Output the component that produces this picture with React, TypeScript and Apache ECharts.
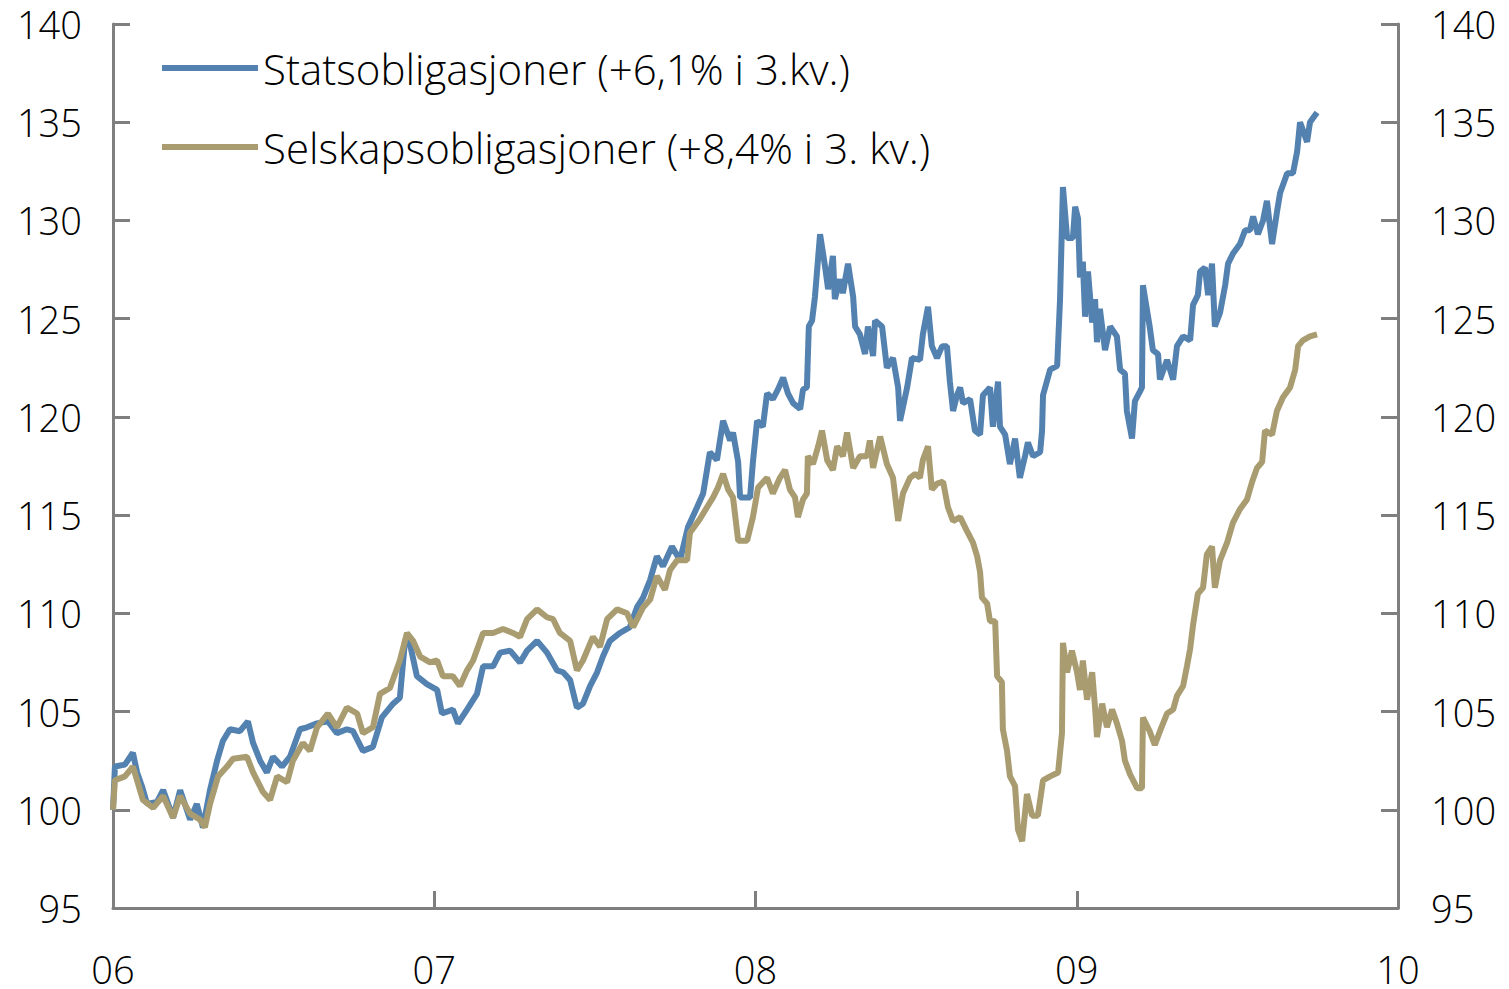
import React, { useEffect, useRef } from "react";
import * as echarts from "echarts";

const xTickLabels = ["06", "07", "08", "09", "10"];
const seriesNames = [
  "Statsobligasjoner (+6,1% i 3.kv.)",
  "Selskapsobligasjoner (+8,4% i 3. kv.)",
];

// Statsobligasjoner (index, 2006 = 100)
const statsT = [
  2006.000, 2006.006, 2006.037, 2006.062, 2006.075, 2006.090, 2006.106, 2006.137, 2006.156, 2006.187,
  2006.209, 2006.240, 2006.261, 2006.280, 2006.302, 2006.324, 2006.342, 2006.364, 2006.395, 2006.420,
  2006.436, 2006.458, 2006.479, 2006.498, 2006.526, 2006.551, 2006.582, 2006.604, 2006.635, 2006.669,
  2006.697, 2006.728, 2006.747, 2006.778, 2006.809, 2006.837, 2006.872, 2006.893, 2006.909, 2006.925,
  2006.946, 2006.977, 2007.009, 2007.024, 2007.058, 2007.074, 2007.102, 2007.133, 2007.152, 2007.183,
  2007.205, 2007.236, 2007.267, 2007.289, 2007.320, 2007.351, 2007.382, 2007.401, 2007.423, 2007.444,
  2007.463, 2007.485, 2007.507, 2007.525, 2007.547, 2007.578, 2007.609, 2007.631, 2007.650, 2007.672,
  2007.693, 2007.712, 2007.740, 2007.765, 2007.790, 2007.818, 2007.837, 2007.849, 2007.858, 2007.880,
  2007.899, 2007.921, 2007.930, 2007.946, 2007.952, 2007.983, 2007.992, 2008.005, 2008.023, 2008.036,
  2008.054, 2008.070, 2008.086, 2008.101, 2008.117, 2008.139, 2008.148, 2008.160, 2008.166, 2008.176,
  2008.185, 2008.201, 2008.217, 2008.226, 2008.241, 2008.247, 2008.263, 2008.272, 2008.288, 2008.304,
  2008.310, 2008.325, 2008.341, 2008.350, 2008.366, 2008.372, 2008.394, 2008.409, 2008.428, 2008.444,
  2008.450, 2008.472, 2008.487, 2008.512, 2008.521, 2008.537, 2008.549, 2008.565, 2008.581, 2008.596,
  2008.605, 2008.615, 2008.627, 2008.637, 2008.646, 2008.668, 2008.683, 2008.699, 2008.708, 2008.730,
  2008.739, 2008.755, 2008.761, 2008.777, 2008.792, 2008.808, 2008.823, 2008.839, 2008.848, 2008.864,
  2008.886, 2008.892, 2008.895, 2008.917, 2008.939, 2008.948, 2008.957, 2008.970, 2008.988, 2008.995,
  2009.004, 2009.010, 2009.019, 2009.026, 2009.035, 2009.048, 2009.057, 2009.063, 2009.072, 2009.088,
  2009.104, 2009.125, 2009.135, 2009.150, 2009.156, 2009.172, 2009.181, 2009.197, 2009.203, 2009.206,
  2009.227, 2009.237, 2009.253, 2009.259, 2009.281, 2009.300, 2009.312, 2009.331, 2009.353, 2009.362,
  2009.377, 2009.384, 2009.399, 2009.409, 2009.421, 2009.430, 2009.446, 2009.462, 2009.471, 2009.486,
  2009.508, 2009.524, 2009.539, 2009.549, 2009.564, 2009.580, 2009.592, 2009.608, 2009.623, 2009.633,
  2009.655, 2009.673, 2009.686, 2009.695, 2009.717, 2009.726, 2009.748,
];
const statsV = [
  100.0, 102.2, 102.3, 102.9, 101.9, 101.2, 100.3, 100.4, 101.0, 99.6,
  101.0, 99.5, 100.3, 99.1, 101.0, 102.5, 103.5, 104.1, 104.0, 104.5,
  103.4, 102.5, 101.9, 102.7, 102.2, 102.7, 104.1, 104.2, 104.4, 104.5,
  103.9, 104.1, 104.0, 103.0, 103.2, 104.7, 105.4, 105.7, 108.6, 108.4,
  106.8, 106.4, 106.1, 104.9, 105.1, 104.4, 105.1, 105.9, 107.3, 107.3,
  108.0, 108.1, 107.5, 108.1, 108.6, 108.0, 107.1, 107.0, 106.6, 105.2,
  105.4, 106.3, 107.0, 107.8, 108.6, 109.0, 109.3, 110.3, 110.8, 111.7,
  112.9, 112.4, 113.4, 112.7, 114.4, 115.4, 116.1, 117.3, 118.2, 117.8,
  119.8, 118.8, 119.2, 117.7, 115.9, 115.9, 117.7, 119.8, 119.5, 121.2,
  120.9, 121.4, 122.0, 121.2, 120.7, 120.4, 121.4, 121.5, 124.6, 124.9,
  126.1, 129.3, 127.6, 126.5, 128.2, 126.0, 127.0, 126.3, 127.8, 126.1,
  124.6, 124.2, 123.2, 124.6, 123.1, 124.9, 124.6, 122.5, 123.0, 121.5,
  119.8, 121.5, 123.0, 122.9, 124.2, 125.6, 123.6, 123.0, 123.6, 123.6,
  121.8, 120.3, 121.1, 121.5, 120.7, 120.9, 119.3, 119.1, 121.1, 121.5,
  119.5, 121.8, 119.5, 119.1, 117.6, 118.9, 116.9, 118.0, 118.7, 118.0,
  118.2, 119.3, 121.1, 122.4, 122.6, 126.0, 131.7, 129.1, 129.1, 130.7,
  130.1, 127.1, 127.9, 125.1, 127.4, 124.8, 126.0, 123.8, 125.5, 123.4,
  124.6, 124.1, 122.4, 122.2, 120.3, 118.9, 120.8, 121.3, 121.5, 126.7,
  124.6, 123.4, 123.2, 121.9, 122.9, 121.9, 123.6, 124.1, 123.9, 125.7,
  126.2, 127.4, 127.6, 126.2, 127.8, 124.6, 125.3, 126.7, 127.8, 128.3,
  128.8, 129.5, 129.5, 130.2, 129.3, 130.0, 131.0, 128.8, 130.4, 131.4,
  132.4, 132.4, 133.5, 135.0, 134.0, 135.0, 135.5,
];

// Selskapsobligasjoner (index, 2006 = 100)
const selskT = [
  2006.000, 2006.006, 2006.037, 2006.062, 2006.075, 2006.093, 2006.125, 2006.156, 2006.187, 2006.209,
  2006.240, 2006.271, 2006.286, 2006.302, 2006.327, 2006.355, 2006.374, 2006.417, 2006.436, 2006.467,
  2006.489, 2006.511, 2006.542, 2006.560, 2006.591, 2006.613, 2006.635, 2006.669, 2006.697, 2006.728,
  2006.760, 2006.778, 2006.809, 2006.831, 2006.862, 2006.893, 2006.915, 2006.934, 2006.956, 2006.987,
  2007.009, 2007.027, 2007.058, 2007.080, 2007.102, 2007.121, 2007.152, 2007.183, 2007.214, 2007.245,
  2007.267, 2007.289, 2007.320, 2007.351, 2007.370, 2007.391, 2007.423, 2007.444, 2007.463, 2007.494,
  2007.516, 2007.538, 2007.569, 2007.600, 2007.619, 2007.650, 2007.672, 2007.693, 2007.718, 2007.734,
  2007.756, 2007.787, 2007.796, 2007.827, 2007.849, 2007.868, 2007.883, 2007.899, 2007.915, 2007.930,
  2007.946, 2007.974, 2007.992, 2008.008, 2008.036, 2008.054, 2008.076, 2008.092, 2008.107, 2008.123,
  2008.132, 2008.148, 2008.160, 2008.163, 2008.179, 2008.195, 2008.207, 2008.223, 2008.241, 2008.254,
  2008.272, 2008.285, 2008.304, 2008.325, 2008.347, 2008.356, 2008.366, 2008.388, 2008.409, 2008.428,
  2008.444, 2008.459, 2008.481, 2008.497, 2008.512, 2008.521, 2008.537, 2008.549, 2008.565, 2008.584,
  2008.599, 2008.615, 2008.637, 2008.658, 2008.677, 2008.690, 2008.699, 2008.705, 2008.721, 2008.730,
  2008.746, 2008.752, 2008.767, 2008.770, 2008.783, 2008.792, 2008.808, 2008.817, 2008.830, 2008.845,
  2008.861, 2008.879, 2008.895, 2008.917, 2008.942, 2008.954, 2008.957, 2008.970, 2008.985, 2009.001,
  2009.010, 2009.019, 2009.032, 2009.048, 2009.057, 2009.063, 2009.079, 2009.094, 2009.110, 2009.125,
  2009.141, 2009.150, 2009.166, 2009.188, 2009.203, 2009.206, 2009.227, 2009.243, 2009.259, 2009.281,
  2009.300, 2009.312, 2009.331, 2009.343, 2009.353, 2009.362, 2009.377, 2009.393, 2009.405, 2009.421,
  2009.430, 2009.446, 2009.468, 2009.486, 2009.508, 2009.530, 2009.546, 2009.561, 2009.577, 2009.586,
  2009.608, 2009.623, 2009.642, 2009.664, 2009.680, 2009.689, 2009.704, 2009.726, 2009.748,
];
const selskV = [
  100.0, 101.5, 101.7, 102.2, 101.5, 100.5, 100.1, 100.7, 99.6, 100.7,
  99.8, 99.5, 99.1, 100.3, 101.7, 102.2, 102.6, 102.7, 101.9, 100.9,
  100.5, 101.7, 101.4, 102.5, 103.4, 103.0, 104.2, 104.9, 104.2, 105.2,
  104.9, 103.9, 104.2, 105.9, 106.2, 107.6, 109.0, 108.6, 107.8, 107.5,
  107.6, 106.8, 106.8, 106.3, 107.1, 107.6, 109.0, 109.0, 109.2, 109.0,
  108.8, 109.7, 110.2, 109.8, 109.7, 109.0, 108.6, 107.1, 107.6, 108.8,
  108.3, 109.7, 110.2, 110.0, 109.3, 110.3, 110.7, 111.9, 111.2, 112.2,
  112.7, 112.7, 114.1, 114.8, 115.4, 115.9, 116.4, 117.1, 116.3, 115.9,
  113.7, 113.7, 114.9, 116.4, 116.9, 116.1, 116.9, 117.3, 116.3, 115.9,
  114.9, 115.8, 116.1, 118.0, 117.6, 118.5, 119.3, 117.8, 117.3, 118.5,
  118.0, 119.2, 117.4, 118.0, 118.0, 118.8, 117.4, 119.0, 117.6, 116.9,
  114.7, 116.1, 116.9, 117.1, 116.9, 117.8, 118.5, 116.3, 116.6, 116.7,
  115.4, 114.7, 114.9, 114.2, 113.6, 112.9, 112.1, 110.8, 110.5, 109.6,
  109.6, 106.8, 106.5, 104.1, 103.0, 101.7, 101.2, 99.0, 98.4, 100.8,
  99.7, 99.7, 101.5, 101.7, 101.9, 103.9, 108.5, 107.0, 108.1, 107.0,
  106.1, 107.6, 105.6, 107.0, 105.2, 103.7, 105.4, 104.2, 105.1, 104.4,
  103.5, 102.5, 101.8, 101.1, 101.1, 104.7, 104.0, 103.3, 104.0, 104.9,
  105.1, 105.8, 106.3, 107.3, 108.2, 109.4, 111.0, 111.3, 113.0, 113.4,
  111.3, 112.7, 113.6, 114.6, 115.3, 115.8, 116.7, 117.4, 117.7, 119.3,
  119.1, 120.3, 121.0, 121.5, 122.4, 123.6, 123.9, 124.1, 124.2,
];

const colors = ["#5482b0", "#a99c70"];
const FONT = "'Open Sans', 'Liberation Sans', Arial, sans-serif";

export default function App() {
  const ref = useRef<HTMLDivElement>(null);

  useEffect(() => {
    if (!ref.current) return;
    const chart = echarts.init(ref.current, null, { renderer: "svg" });
    const pairs = (t: number[], v: number[]) => t.map((x, i) => [x, v[i]]);
    const axisLine = { show: true, lineStyle: { color: "#7f7f7f", width: 3 } };
    const tick = { show: true, inside: true, length: 17, lineStyle: { color: "#7f7f7f", width: 3 } };
    const labelStyle = { fontSize: 38, fontWeight: 300, color: "#000", fontFamily: FONT, lineHeight: 30 };
    const yCommon = {
      type: "value" as const,
      min: 95,
      max: 140,
      interval: 5,
      axisLine,
      axisTick: tick,
      splitLine: { show: false },
    };
    chart.setOption({
      animation: false,
      backgroundColor: "#fff",
      grid: { left: 113, right: 111, top: 24, bottom: 81, containLabel: false },
      legend: {
        orient: "vertical",
        left: 157,
        top: 42,
        itemWidth: 96,
        itemHeight: 6,
        itemGap: 37,
        icon: "rect",
        data: seriesNames,
        textStyle: { fontSize: 42, fontWeight: 300, lineHeight: 40, color: "#000", fontFamily: FONT },
      },
      xAxis: {
        type: "value",
        min: 2006,
        max: 2010,
        interval: 1,
        axisLine,
        axisTick: tick,
        splitLine: { show: false },
        axisLabel: {
          ...labelStyle,
          margin: 46,
          formatter: (v: number) => xTickLabels[Math.round(v - 2006)] ?? "",
        },
      },
      yAxis: [
        { ...yCommon, position: "left", axisLabel: { ...labelStyle, margin: 31 } },
        { ...yCommon, position: "right", axisLabel: { ...labelStyle, margin: 33 } },
      ],
      series: [
        {
          name: seriesNames[0],
          type: "line",
          data: pairs(statsT, statsV),
          showSymbol: false,
          color: colors[0],
          lineStyle: { width: 6, color: colors[0] },
          z: 3,
        },
        {
          name: seriesNames[1],
          type: "line",
          data: pairs(selskT, selskV),
          showSymbol: false,
          color: colors[1],
          lineStyle: { width: 6, color: colors[1] },
          z: 4,
        },
      ],
    });
    return () => chart.dispose();
  }, []);

  return (
    <div
      ref={ref}
      style={{ position: "fixed", left: 0, top: 0, width: 1509, height: 989, background: "#fff" }}
    />
  );
}
